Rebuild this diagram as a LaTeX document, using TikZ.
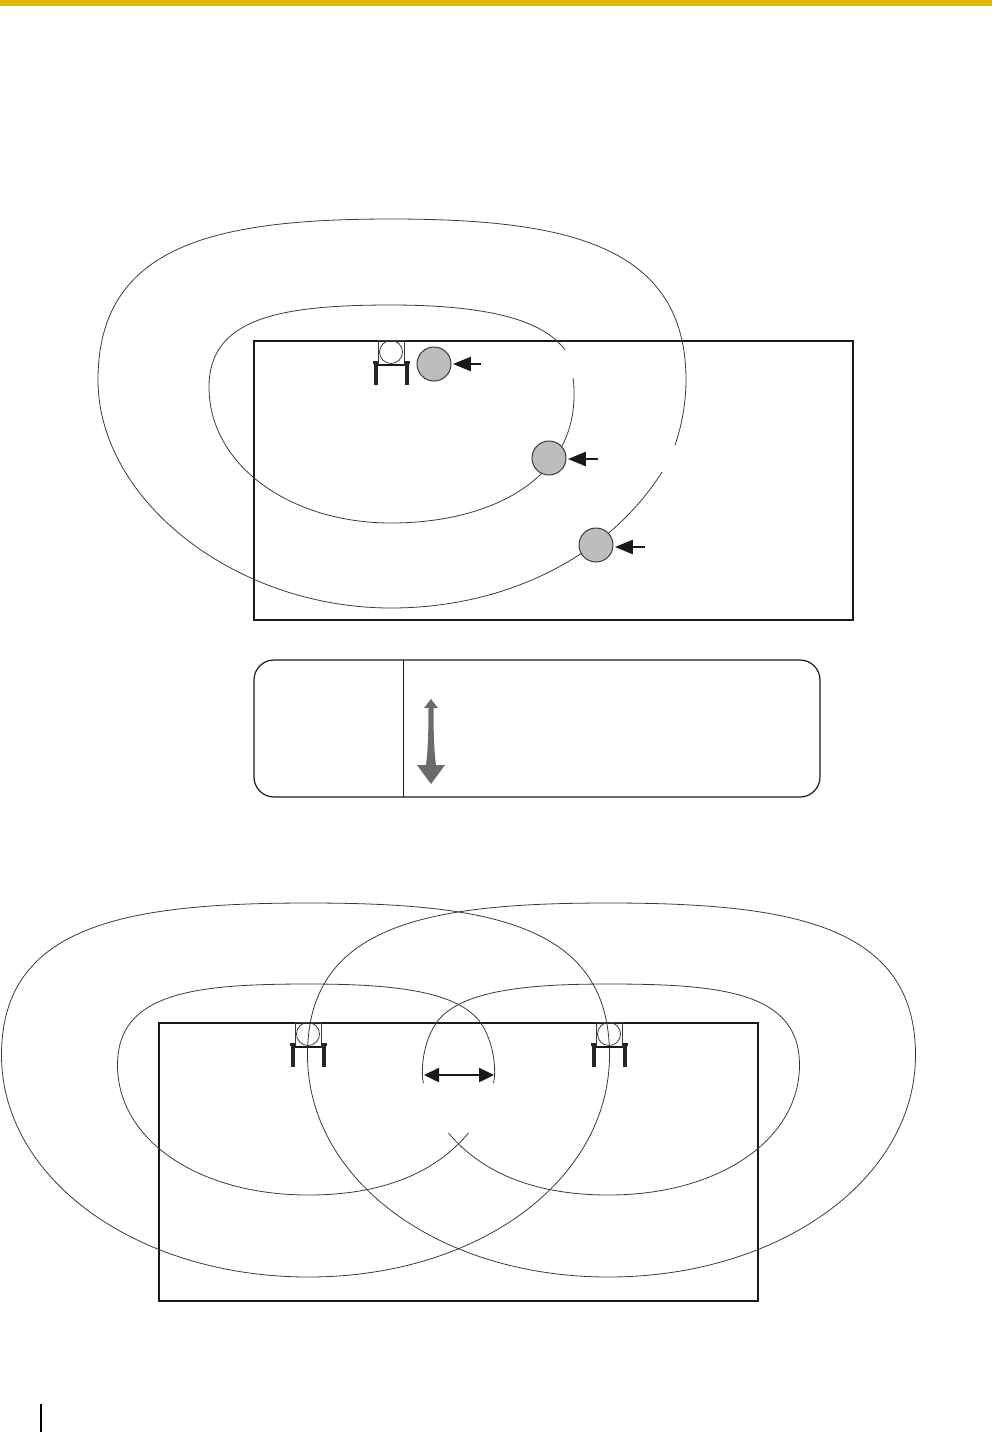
\documentclass[tikz,border=0pt]{standalone}
\usetikzlibrary{arrows.meta}
\definecolor{banner}{HTML}{E0B700}
\definecolor{lobeedge}{HTML}{3A3A3A}
\definecolor{ballfill}{HTML}{BDBDBD}
\definecolor{tapergray}{HTML}{6B6B6B}

\begin{document}
\begin{tikzpicture}[
  x=0.5pt, y=-0.5pt,
  room/.style={draw=black!90, line width=1pt},
  roomlow/.style={draw=black!90, line width=0.8pt},
  lobe/.style={draw=lobeedge, line width=0.4pt},
  ball/.style={circle, draw=lobeedge, fill=ballfill, line width=0.5pt, minimum size=17pt, inner sep=0pt},
  pointer/.style={{Triangle[length=9pt,width=7pt]}-, line width=1.2pt, draw=black!90, shorten <=0.7pt},
  span/.style={{Triangle[length=7.5pt,width=7pt]}-{Triangle[length=7.5pt,width=7pt]}, line width=1.2pt, draw=black!90},
  spk/.pic={
    \draw[lobeedge, line width=0.5pt] (-13,-12) rectangle (13,13);
    \draw[lobeedge, line width=0.4pt] (0,0) circle (11.5);
    \draw[black!90, line width=0.8pt] (-13,13) -- (13,13);
    \draw[black!85, line width=2pt] (-15,9) -- (-15,33);
    \draw[black!85, line width=2pt] (16,9) -- (16,33);
    \draw[black!85, line width=1.5pt] (-18,10) -- (-13,10);
    \draw[black!85, line width=1.5pt] (13,10) -- (19,10);
  },
]
\useasboundingbox (0,0) rectangle (992,1432);
\fill[banner] (0,0) rectangle (992,6);
\fill[black] (39.5,1404) rectangle (41.5,1432);

% upper room with one unit
\draw[room] (254,341) rectangle (853,620);
% outer lobe, broken on the right
\draw[lobe] (675,445) .. controls (682,425) and (686,402) .. (686,380)
  .. controls (686,245) and (567,219) .. (391,219)
  .. controls (215,219) and (98,245) .. (98,380)
  .. controls (98,500) and (235,608) .. (391,608)
  .. controls (507,608) and (609,556) .. (662,472);
% inner lobe, broken on the right
\draw[lobe] (565,350) .. controls (540,315) and (470,305) .. (391,305)
  .. controls (280,305) and (209,318) .. (209,387)
  .. controls (209,465) and (290,523) .. (391,523)
  .. controls (490,523) and (574,480) .. (574,395)
  .. controls (574,389) and (574,384) .. (573,378);
\pic at (391,352) {spk};
\node[ball] (ballA) at (434,364) {};
\node[ball] (ballB) at (549,458) {};
\node[ball] (ballC) at (596,545) {};
\coordinate (tailA) at (481,364);
\coordinate (tailB) at (598,459);
\coordinate (tailC) at (645,547);
\draw[pointer] (ballA.east |- tailA) -- (tailA);
\draw[pointer] (ballB.east |- tailB) -- (tailB);
\draw[pointer] (ballC.east |- tailC) -- (tailC);

% legend panel
\draw[black!90, line width=0.6pt, rounded corners=10pt] (254,660) rectangle (820,797);
\draw[black!90, line width=0.5pt] (403,660) -- (403,797);
\fill[tapergray] (431,699) -- (438,708) -- (433.5,708)
  .. controls (433.5,730) and (434,750) .. (436,765) -- (445,765) -- (431,784) -- (417,765) -- (426,765)
  .. controls (428,750) and (428.5,730) .. (428.5,708) -- (424,708) -- cycle;

% lower room with two units
\draw[roomlow] (159,1023) rectangle (758,1301);
\foreach \s in {1,-1}{
  \begin{scope}[shift={(458.5,0)}, xscale=\s]
    \draw[lobe] (-150,903) .. controls (-333,903) and (-457,925) .. (-457,1055)
      .. controls (-457,1180) and (-320,1277) .. (-150,1277)
      .. controls (20,1277) and (151,1180) .. (151,1055)
      .. controls (151,925) and (33,903) .. (-150,903) -- cycle;
    \draw[lobe] (35,1083) .. controls (38,1072) and (36,1040) .. (20,1020)
      .. controls (-5,990) and (-70,984) .. (-150,984)
      .. controls (-263,984) and (-341,992) .. (-341,1065)
      .. controls (-341,1140) and (-260,1195) .. (-150,1195)
      .. controls (-80,1195) and (-25,1175) .. (10,1133);
    \pic at (-150.5,1034) {spk};
  \end{scope}
}
\coordinate (spanL) at (424,1075);
\coordinate (spanR) at (494,1075);
\draw[span] (spanL) -- (spanR);
\end{tikzpicture}
\end{document}
